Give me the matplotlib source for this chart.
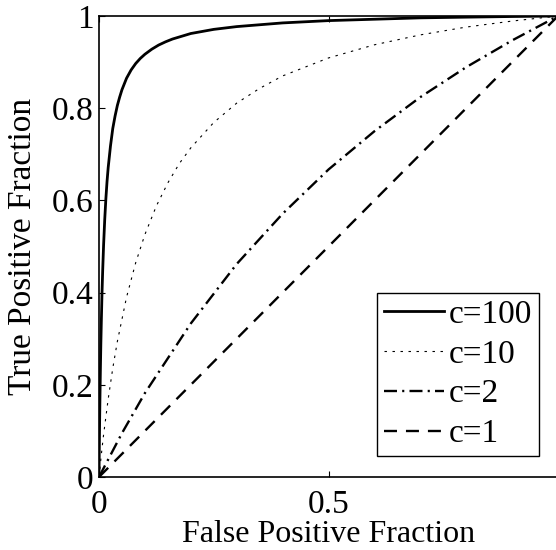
import matplotlib
matplotlib.use("Agg")
import matplotlib.pyplot as plt

# --- ROC curve values ---
# c = 100 (steep knee near the origin, so sampled more densely there)
fpf_c100 = [0, 0.0005, 0.001, 0.0015, 0.002, 0.003, 0.004, 0.005, 0.0065, 0.008,
            0.01, 0.0125, 0.015, 0.0175, 0.02, 0.025, 0.03, 0.035, 0.04, 0.045,
            0.05, 0.06, 0.07, 0.08, 0.09, 0.1, 0.115, 0.13, 0.145, 0.16, 0.18,
            0.2, 0.25, 0.3, 0.4, 0.5, 0.6, 0.7, 0.8, 0.9, 1.0]
tpf_c100 = [0, 0.048, 0.091, 0.131, 0.167, 0.231, 0.288, 0.334, 0.397, 0.447,
            0.503, 0.559, 0.604, 0.641, 0.671, 0.718, 0.756, 0.783, 0.806, 0.824,
            0.840, 0.865, 0.883, 0.897, 0.908, 0.917, 0.928, 0.937, 0.944, 0.950,
            0.956, 0.962, 0.971, 0.977, 0.985, 0.990, 0.993, 0.996, 0.9975, 0.9989, 1.0]

# c = 10
fpf_c10 = [0, 0.005, 0.01, 0.02, 0.03, 0.04, 0.06, 0.08, 0.1, 0.125, 0.15, 0.175,
           0.2, 0.25, 0.3, 0.35, 0.4, 0.5, 0.6, 0.7, 0.8, 0.9, 1.0]
tpf_c10 = [0, 0.048, 0.092, 0.169, 0.236, 0.294, 0.390, 0.465, 0.526, 0.588, 0.638,
           0.680, 0.714, 0.769, 0.811, 0.843, 0.870, 0.909, 0.9375, 0.959, 0.976,
           0.989, 1.0]

# c = 2
fpf_c2 = [0, 0.05, 0.1, 0.2, 0.3, 0.4, 0.5, 0.6, 0.7, 0.8, 0.9, 1.0]
tpf_c2 = [0, 0.095, 0.182, 0.333, 0.462, 0.571, 0.667, 0.750, 0.824, 0.889, 0.947, 1.0]

# c = 1 (chance line)
fpf_c1 = [0, 1.0]
tpf_c1 = [0, 1.0]

legend_labels = ["c=100", "c=10", "c=2", "c=1"]
x_ticks = [0, 0.5]
x_tick_labels = ["0", "0.5"]
y_ticks = [0, 0.2, 0.4, 0.6, 0.8, 1]
y_tick_labels = ["0", "0.2", "0.4", "0.6", "0.8", "1"]

plt.rcParams['font.family'] = ['Liberation Serif', 'DejaVu Serif']

fig = plt.figure(figsize=(5.56, 5.5), dpi=100)
# right edge of the box sits just past the canvas, like the cropped original
ax = fig.add_axes([99 / 556, 73 / 550, 459 / 556, 461 / 550])

ax.plot(fpf_c100, tpf_c100, color='black', linewidth=2.0, linestyle='-', label=legend_labels[0])
ax.plot(fpf_c10, tpf_c10, color='black', linewidth=0.8, dashes=(2.2, 5), label=legend_labels[1])
ax.plot(fpf_c2, tpf_c2, color='black', linewidth=1.7, dashes=(5.5, 2.2, 0.9, 2.2), label=legend_labels[2])
ax.plot(fpf_c1, tpf_c1, color='black', linewidth=1.7, dashes=(5.5, 3.8), label=legend_labels[3])

ax.set_xlim(0, 1)
ax.set_ylim(0, 1)
ax.set_xticks(x_ticks)
ax.set_xticklabels(x_tick_labels)
ax.set_yticks(y_ticks)
ax.set_yticklabels(y_tick_labels)
ax.tick_params(direction='in', length=4, width=0.8, labelsize=24, top=True, right=False)
ax.tick_params(axis='x', pad=9)
ax.tick_params(axis='y', pad=4)
for s in ax.spines.values():
    s.set_linewidth(1.2)

ax.set_xlabel("False Positive Fraction", fontsize=23, labelpad=0)
ax.set_ylabel("True Positive Fraction", fontsize=24, labelpad=10)

leg = ax.legend(loc='lower right', bbox_to_anchor=(0.958, 0.0456), borderaxespad=0,
                fontsize=24, frameon=True, fancybox=False, handlelength=1.8,
                handletextpad=0.15, borderpad=0.2, labelspacing=0.28)
leg.get_frame().set_edgecolor('black')
leg.get_frame().set_linewidth(1.0)
leg.get_frame().set_alpha(1)

fig.savefig("out.png", dpi=100)
